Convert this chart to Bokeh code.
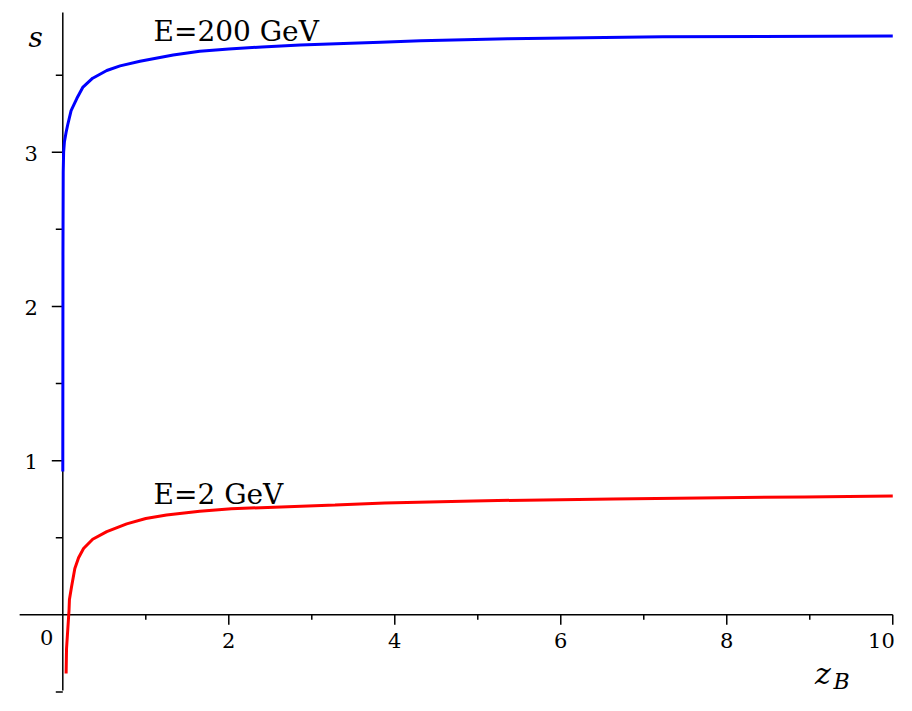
import math
from bokeh.plotting import figure
from bokeh.models import Range1d
from bokeh.core.properties import value
from bokeh.embed import file_html
from bokeh.resources import INLINE

# ---- data ----
z_e200 = [0.0, 0.002, 0.005, 0.01, 0.02, 0.04, 0.06, 0.1, 0.17, 0.24, 0.36, 0.53,
          0.69, 0.93, 1.33, 1.65, 2.0, 2.4, 2.86, 3.47, 3.83, 4.31, 5.36, 7.23, 10.0]
s_e200 = [0.93, 2.36, 2.87, 3.0, 3.07, 3.13, 3.18, 3.27, 3.35, 3.42, 3.48, 3.53,
          3.56, 3.59, 3.63, 3.655, 3.67, 3.683, 3.695, 3.707, 3.714, 3.723, 3.736,
          3.749, 3.754]

z_e2 = [0.04, 0.045, 0.075, 0.08, 0.105, 0.145, 0.19, 0.25, 0.36, 0.53, 0.77, 1.0,
        1.25, 1.65, 2.03, 2.63, 3.28, 3.88, 4.95, 6.63, 8.94, 10.0]
s_e2 = [-0.38, -0.22, 0.03, 0.10, 0.18, 0.30, 0.37, 0.43, 0.49, 0.54, 0.59, 0.625,
        0.648, 0.672, 0.688, 0.70, 0.713, 0.726, 0.739, 0.752, 0.765, 0.771]

x_major_ticks = [2, 4, 6, 8, 10]
x_tick_labels = ["2", "4", "6", "8", "10"]
x_minor_ticks = [1, 3, 5, 7, 9]
y_major_ticks = [1, 2, 3]
y_tick_labels = ["1", "2", "3"]
y_minor_ticks = [-0.5, 0.5, 1.5, 2.5, 3.5]

FONT = value("DejaVu Serif")
DY = -6.5  # baseline correction for the SVG text renderer

p = figure(width=896, height=695, output_backend="svg", toolbar_location=None,
           x_range=Range1d(-0.7506, 10.045), y_range=Range1d(-0.523, 3.984),
           min_border=0, min_border_left=0, min_border_right=0,
           min_border_top=0, min_border_bottom=0)
p.xaxis.visible = False
p.yaxis.visible = False
p.grid.visible = False
p.outline_line_color = None
p.background_fill_color = "white"

# axes lines
p.segment(x0=[-0.52], y0=[0], x1=[10], y1=[0], line_color="black", line_width=1.5)
p.segment(x0=[0], y0=[-0.49], x1=[0], y1=[3.906], line_color="black", line_width=1.5)

# ticks
p.ray(x=x_major_ticks, y=[0] * len(x_major_ticks), length=10, angle=-math.pi / 2,
      length_units="screen", line_color="black", line_width=1.5)
p.ray(x=x_minor_ticks, y=[0] * len(x_minor_ticks), length=5, angle=-math.pi / 2,
      length_units="screen", line_color="black", line_width=1.5)
p.ray(x=[0] * len(y_major_ticks), y=y_major_ticks, length=11, angle=math.pi,
      length_units="screen", line_color="black", line_width=1.5)
p.ray(x=[0] * len(y_minor_ticks), y=y_minor_ticks, length=7, angle=math.pi,
      length_units="screen", line_color="black", line_width=1.5)

# tick labels (last one kept inside the canvas)
p.text(x=x_major_ticks[:-1], y=[0] * (len(x_major_ticks) - 1), text=x_tick_labels[:-1],
       text_font=FONT, text_font_size="21px", text_align="center",
       text_baseline="alphabetic", y_offset=32 + DY, text_color="black")
p.text(x=x_major_ticks[-1:], y=[0], text=x_tick_labels[-1:],
       text_font=FONT, text_font_size="21px", text_align="right",
       text_baseline="alphabetic", x_offset=2, y_offset=32 + DY, text_color="black")
p.text(x=[0] * len(y_major_ticks), y=y_major_ticks, text=y_tick_labels,
       text_font=FONT, text_font_size="21px", text_align="right",
       text_baseline="alphabetic", x_offset=-25, y_offset=7.5 + DY, text_color="black")
p.text(x=[0], y=[0], text=["0"], text_font=FONT, text_font_size="21px",
       text_align="center", text_baseline="alphabetic", x_offset=-16, y_offset=29 + DY,
       text_color="black")

# curves
p.line(z_e200, s_e200, line_color="#0000FF", line_width=3)
p.line(z_e2, s_e2, line_color="#FF0000", line_width=3)

# curve labels
p.text(x=[1.093], y=[3.744], text=["E=200 GeV"], text_font=FONT, text_font_size="28px",
       text_align="left", text_baseline="alphabetic", y_offset=DY, text_color="black")
p.text(x=[1.093], y=[0.737], text=["E=2 GeV"], text_font=FONT, text_font_size="28px",
       text_align="left", text_baseline="alphabetic", y_offset=DY, text_color="black")

# axis titles
p.text(x=[0], y=[3.705], text=["s"], text_font=FONT, text_font_size="28px",
       text_font_style="italic", text_align="center", text_baseline="alphabetic",
       x_offset=-27, y_offset=DY, text_color="black")
p.text(x=[9.159], y=[-0.42], text=["z"], text_font=FONT, text_font_size="30px",
       text_font_style="italic", text_align="center", text_baseline="alphabetic",
       y_offset=DY, text_color="black")
p.text(x=[9.286], y=[-0.476], text=["B"], text_font=FONT, text_font_size="22px",
       text_font_style="italic", text_align="left", text_baseline="alphabetic",
       y_offset=DY, text_color="black")

open("out.html", "w").write(file_html(p, INLINE))
